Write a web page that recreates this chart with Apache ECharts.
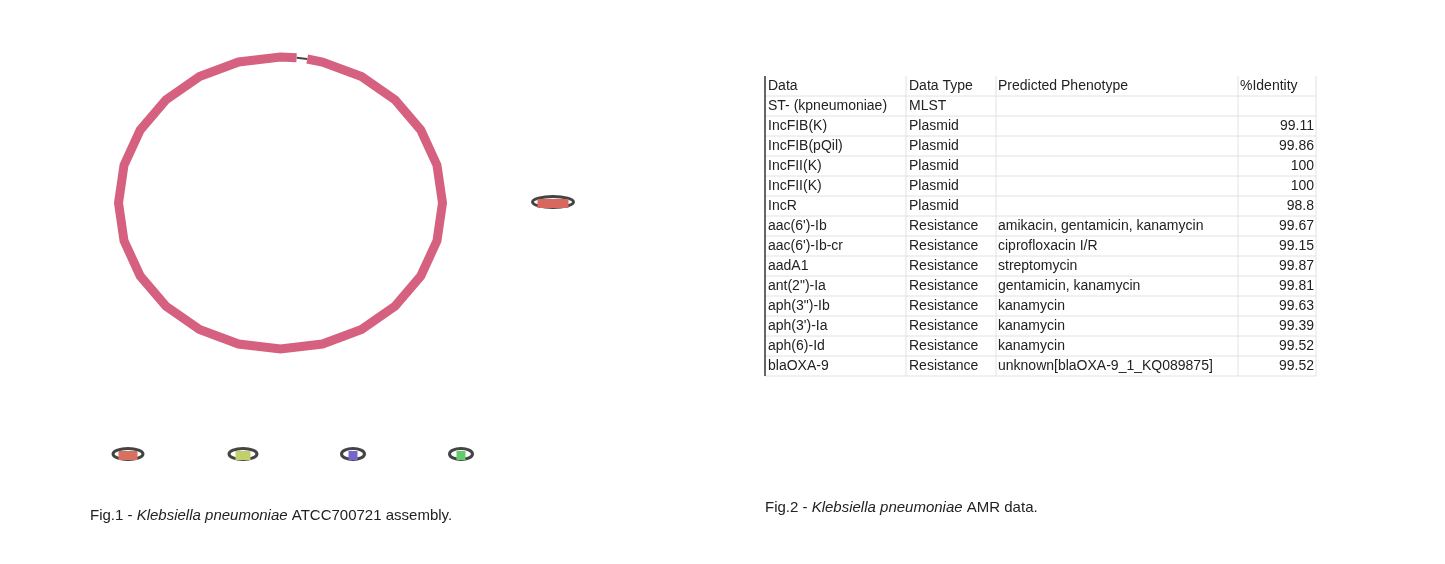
<!DOCTYPE html>
<html>
<head>
<meta charset="utf-8">
<script src="https://cdn.jsdelivr.net/npm/echarts@6/dist/echarts.min.js"></script>
<style>
  html, body { margin: 0; padding: 0; background: #fff; }
  #chart { width: 1445px; height: 564px; }
</style>
</head>
<body>
<div id="chart"></div>
<script>
// contig arcs on the main replicon, in degrees clockwise from top
const contigArcs = [[9.5, 365.7]];
const gapLinks = [[5.7, 9.5]];
// small plasmids: centre x, centre y, ring width, bar width
const plasmidX = [553, 128, 243, 353, 461];
const plasmidY = [202, 454, 454, 454, 454];
const plasmidRing = [44, 33, 31, 26, 26];
const plasmidBar = [31, 19, 15, 9, 9];
const plasmidColors = ['#d8675f', '#d8705f', '#c3cf6b', '#7466cc', '#62cb6b'];

// AMR table
const colHeads = ['Data', 'Data Type', 'Predicted Phenotype', '%Identity'];
const dataNames = ['ST- (kpneumoniae)', 'IncFIB(K)', 'IncFIB(pQil)', 'IncFII(K)', 'IncFII(K)', 'IncR',
    'aac(6\')-Ib', 'aac(6\')-Ib-cr', 'aadA1', 'ant(2")-Ia', 'aph(3")-Ib', 'aph(3\')-Ia', 'aph(6)-Id', 'blaOXA-9'];
const dataTypes = ['MLST', 'Plasmid', 'Plasmid', 'Plasmid', 'Plasmid', 'Plasmid',
    'Resistance', 'Resistance', 'Resistance', 'Resistance', 'Resistance', 'Resistance', 'Resistance', 'Resistance'];
const phenotypes = ['', '', '', '', '', '', 'amikacin, gentamicin, kanamycin', 'ciprofloxacin I/R', 'streptomycin',
    'gentamicin, kanamycin', 'kanamycin', 'kanamycin', 'kanamycin', 'unknown[blaOXA-9_1_KQ089875]'];
const identity = ['', '99.11', '99.86', '100', '100', '98.8', '99.67', '99.15', '99.87', '99.81', '99.63', '99.39', '99.52', '99.52'];

const chart = echarts.init(document.getElementById('chart'));

// ring geometry
const cx = 280.5, cy = 203, rx = 162, ry = 146;
const step = 360 / 24;

function ringPoints(api, a0, a1) {
    const pts = [];
    let a = a0;
    while (true) {
        const t = a * Math.PI / 180;
        pts.push(api.coord([cx + rx * Math.sin(t), cy - ry * Math.cos(t)]));
        if (a >= a1) break;
        a = Math.min(a1, (Math.floor(a / step) + 1) * step);
    }
    return pts;
}

const FONT = 'Liberation Sans, Arial, sans-serif';
const colX = [768, 909, 998, 1314];
const lineX = [765, 906, 996, 1238, 1316];
const rowY0 = 86, rowH = 20;
const tableGraphics = [];
const nRows = dataNames.length + 1;
for (let r = 0; r <= nRows; r++) {
    tableGraphics.push({ type: 'line', shape: { x1: 765, y1: rowY0 - 10 + r * rowH, x2: 1316, y2: rowY0 - 10 + r * rowH },
        style: { stroke: r === 0 ? '#fff' : '#e2e2e2', lineWidth: 1 } });
}
lineX.forEach(function (x, i) {
    tableGraphics.push({ type: 'line', shape: { x1: x, y1: 76, x2: x, y2: 76 + nRows * rowH },
        style: { stroke: i === 0 ? '#333' : '#e2e2e2', lineWidth: i === 0 ? 1.5 : 1 } });
});
function cell(x, y, txt, align) {
    tableGraphics.push({ type: 'text', x: x, y: y,
        style: { text: txt, fill: '#222', font: '14px ' + FONT, textAlign: align || 'left', textVerticalAlign: 'middle' } });
}
colHeads.forEach(function (h, i) { cell(i === 3 ? 1240 : colX[i], rowY0, h); });
dataNames.forEach(function (n, i) {
    const y = rowY0 + (i + 1) * rowH;
    cell(colX[0], y, n);
    cell(colX[1], y, dataTypes[i]);
    cell(colX[2], y, phenotypes[i]);
    cell(colX[3], y, identity[i], 'right');
});

chart.setOption({
    animation: false,
    grid: { left: 0, right: 0, top: 0, bottom: 0 },
    xAxis: { type: 'value', min: 0, max: 1445, show: false },
    yAxis: { type: 'value', min: 0, max: 564, inverse: true, show: false },
    graphic: tableGraphics.concat([
        { type: 'text', x: 90, y: 516, style: { textVerticalAlign: 'middle',
            text: '{n|Fig.1 - }{i|Klebsiella pneumoniae}{n| ATCC700721 assembly.}',
            rich: { n: { font: '15px ' + FONT, fill: '#222' }, i: { font: 'italic 15px ' + FONT, fill: '#222' } } } },
        { type: 'text', x: 765, y: 508, style: { textVerticalAlign: 'middle',
            text: '{n|Fig.2 - }{i|Klebsiella pneumoniae}{n| AMR data.}',
            rich: { n: { font: '15px ' + FONT, fill: '#222' }, i: { font: 'italic 15px ' + FONT, fill: '#222' } } } }
    ]),
    series: [
        {
            type: 'custom', name: 'links', data: gapLinks,
            renderItem: function (params, api) {
                return { type: 'polyline', shape: { points: ringPoints(api, api.value(0), api.value(1)) },
                    style: { stroke: '#444', lineWidth: 2, fill: null } };
            }
        },
        {
            type: 'custom', name: 'contigs', data: contigArcs,
            renderItem: function (params, api) {
                return { type: 'polyline', shape: { points: ringPoints(api, api.value(0), api.value(1)) },
                    style: { stroke: '#d6607f', lineWidth: 9, fill: null, lineJoin: 'miter' } };
            }
        },
        {
            type: 'custom', name: 'plasmids',
            data: plasmidX.map(function (x, i) { return [x, plasmidY[i], plasmidRing[i], plasmidBar[i], i]; }),
            renderItem: function (params, api) {
                const c = api.coord([api.value(0), api.value(1)]);
                const w = api.value(2), b = api.value(3);
                return { type: 'group', children: [
                    { type: 'ellipse', shape: { cx: c[0], cy: c[1], rx: w / 2 - 1.5, ry: 5.5 },
                        style: { stroke: '#444', lineWidth: 3, fill: null } },
                    { type: 'rect', shape: { x: c[0] - b / 2, y: c[1] - 3, width: b, height: 9 },
                        style: { fill: plasmidColors[api.value(4)] } }
                ] };
            }
        }
    ]
});
</script>
</body>
</html>
